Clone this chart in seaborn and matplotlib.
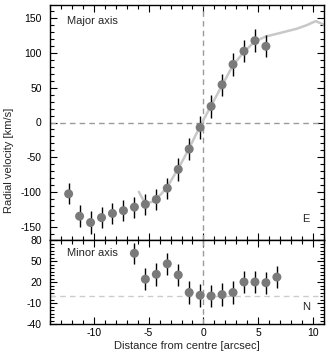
import numpy as np
import pandas as pd
import matplotlib
matplotlib.use("Agg")
import matplotlib.pyplot as plt
import seaborn as sns
from matplotlib.ticker import MultipleLocator

# Major axis measurements
major_x = [-12.3, -11.3, -10.3, -9.3, -8.3, -7.3, -6.3, -5.3, -4.3, -3.3,
           -2.3, -1.3, -0.3, 0.7, 1.7, 2.7, 3.7, 4.7, 5.7]
major_v = [-102, -134, -143, -136, -130, -126, -121, -117, -110, -94,
           -67, -38, -7, 23, 54, 83, 102, 117, 109]
major_err = [15, 16, 16, 15, 15, 15, 15, 15, 15, 15,
             16, 16, 16, 16, 16, 16, 16, 16, 16]

# Model rotation curve
model_x = [-5.9, -5.3, -4.6, -3.9, -3.3, -2.3, -1.3, -0.3, 0.7, 1.7,
           2.7, 3.7, 4.7, 5.7, 7.0, 8.5, 9.4, 10.25, 11.1]
model_v = [-99, -116, -113, -103, -92, -66, -37, -5, 24, 53,
           82, 101, 116, 123, 128, 134, 139, 145, 139]

# Minor axis measurements
minor_x = [-6.3, -5.3, -4.3, -3.3, -2.3, -1.3, -0.3, 0.7, 1.7, 2.7,
           3.7, 4.7, 5.7, 6.7]
minor_v = [61, 24, 31, 46, 30, 5, 1, 0, 2, 5, 20, 20, 19, 27]
minor_err = [15, 16, 16, 16, 16, 16, 16, 16, 16, 16, 16, 16, 16, 16]

minor_ticks = [-40, -10, 20, 50, 80]

major = pd.DataFrame({"x": major_x, "v": major_v, "err": major_err})
model = pd.DataFrame({"x": model_x, "v": model_v})
minor = pd.DataFrame({"x": minor_x, "v": minor_v, "err": minor_err})

sns.set_style("ticks")
plt.rcParams["font.family"] = ["Liberation Sans", "DejaVu Sans"]
plt.rcParams["font.size"] = 8
plt.rcParams["axes.unicode_minus"] = False

W, H = 327, 352
fig = plt.figure(figsize=(W / 100, H / 100), dpi=100)
left, right = 50 / W, 324 / W
ax1 = fig.add_axes([left, 1 - 240 / H, right - left, 235 / H])
ax2 = fig.add_axes([left, 1 - 324 / H, right - left, 84 / H])

point_color = "#7a7a7a"

# top panel
ax1.axhline(0, color="#9a9a9a", lw=1, ls=(0, (4, 3)), zorder=1)
ax1.axvline(0, color="#9a9a9a", lw=1, ls=(0, (4, 3)), zorder=1)
sns.lineplot(data=model, x="x", y="v", ax=ax1, color="#c8c8c8", lw=1.8,
             sort=False, zorder=2)
ax1.errorbar(major["x"], major["v"], yerr=major["err"], fmt="none",
             ecolor="black", elinewidth=1, zorder=3)
sns.scatterplot(data=major, x="x", y="v", ax=ax1, color=point_color,
                s=42, edgecolor="none", zorder=4)
ax1.set_xlim(-14, 11)
ax1.set_ylim(-168, 168)
ax1.yaxis.set_major_locator(MultipleLocator(50))
ax1.yaxis.set_minor_locator(MultipleLocator(10))
ax1.set_xlabel("")
ax1.set_ylabel("")
ax1.tick_params(labelbottom=False)
ax1.text(0.062, 0.953, "Major axis", transform=ax1.transAxes,
         ha="left", va="top", fontsize=8)
ax1.text(0.933, 0.088, "E", transform=ax1.transAxes,
         ha="center", va="center", fontsize=8)

# bottom panel
ax2.axhline(0, color="#cccccc", lw=1, ls=(0, (4, 3)), zorder=1)
ax2.axvline(0, color="#9a9a9a", lw=1, ls=(0, (4, 3)), zorder=1)
ax2.errorbar(minor["x"], minor["v"], yerr=minor["err"], fmt="none",
             ecolor="black", elinewidth=1, zorder=3)
sns.scatterplot(data=minor, x="x", y="v", ax=ax2, color=point_color,
                s=42, edgecolor="none", zorder=4)
ax2.set_xlim(-14, 11)
ax2.set_ylim(-40, 80)
ax2.set_yticks(minor_ticks)
ax2.yaxis.set_minor_locator(MultipleLocator(5))
ax2.set_xlabel("Distance from centre [arcsec]", fontsize=8, labelpad=2)
ax2.set_ylabel("")
ax2.text(0.062, 0.84, "Minor axis", transform=ax2.transAxes,
         ha="left", va="center", fontsize=8)
ax2.text(0.933, 0.206, "N", transform=ax2.transAxes,
         ha="center", va="center", fontsize=8)

for ax in (ax1, ax2):
    ax.xaxis.set_major_locator(MultipleLocator(5))
    ax.xaxis.set_minor_locator(MultipleLocator(1))
    ax.tick_params(which="both", direction="in", top=True, right=True,
                   width=0.8, colors="black", labelsize=7.5)
    ax.tick_params(which="major", length=5)
    ax.tick_params(which="minor", length=3)
    ax.tick_params(axis="y", pad=6)
    ax.tick_params(axis="x", pad=3)
    for s in ax.spines.values():
        s.set_linewidth(1)
        s.set_color("black")

fig.text(9 / W, 1 - 160 / H, "Radial velocity [km/s]", rotation=90,
         ha="center", va="center", fontsize=8)

fig.savefig("out.png", dpi=100)
